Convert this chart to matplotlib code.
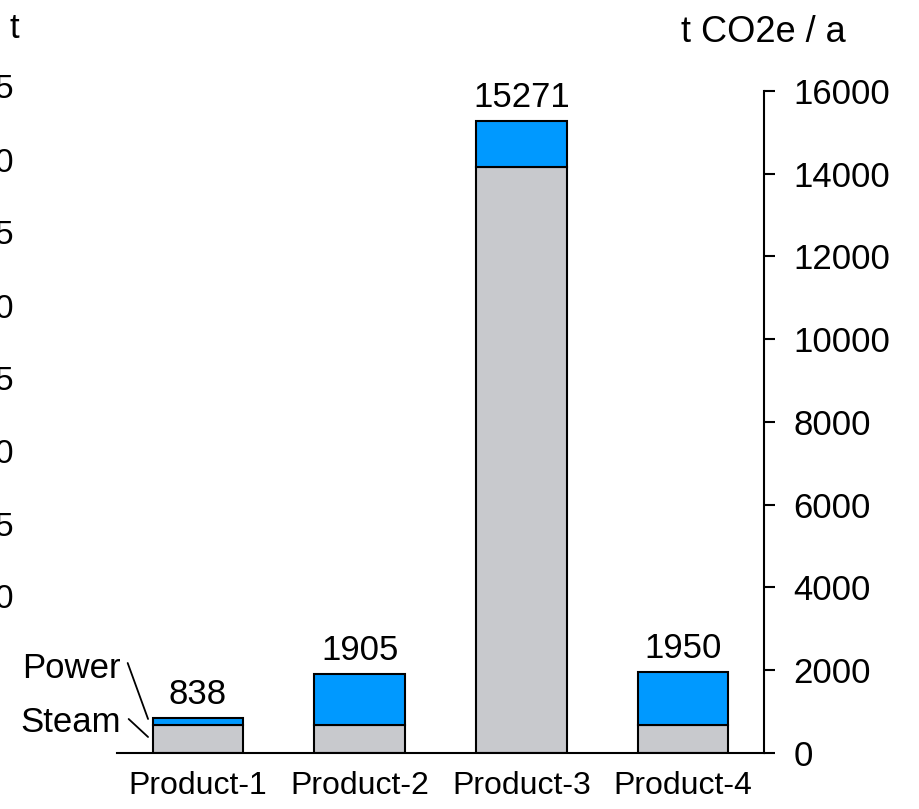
import matplotlib
matplotlib.use("Agg")
import matplotlib.pyplot as plt
import numpy as np

plt.rcParams['font.family'] = ['Liberation Sans', 'DejaVu Sans']

categories = ["Product-1", "Product-2", "Product-3", "Product-4"]
steam = [670, 680, 14160, 670]
power = [168, 1225, 1111, 1280]
totals = [838, 1905, 15271, 1950]
right_ticks = [0, 2000, 4000, 6000, 8000, 10000, 12000, 14000, 16000]
left_clipped_labels = ["5", "0", "5", "0", "5", "0", "5", "0"]

W, H = 920, 809
fig = plt.figure(figsize=(W / 100, H / 100), dpi=100)
ax = fig.add_axes([117 / W, (H - 752.7) / H, (764 - 117) / W, (752.7 - 91) / H])

x = np.arange(len(categories))
bw = 0.56
gray = "#C8C9CD"
blue = "#0099FF"
ax.bar(x, steam, width=bw, color=gray, edgecolor="black", linewidth=1.5, zorder=2)
ax.bar(x, power, width=bw, bottom=steam, color=blue, edgecolor="black", linewidth=1.5, zorder=2)

for xi, t in zip(x, totals):
    ax.annotate(str(t), xy=(xi, t), xytext=(0, 10), textcoords="offset points",
                ha="center", va="baseline", fontsize=25, annotation_clip=False)

ax.set_xlim(-0.5, 3.5)
ax.set_ylim(0, 16000)
ax.set_xticks(x)
ax.set_xticklabels(categories, fontsize=23)
ax.tick_params(axis="x", length=0, pad=13)
ax.yaxis.tick_right()
ax.set_yticks(right_ticks)
ax.set_yticklabels([str(v) for v in right_ticks], fontsize=25)
ax.tick_params(axis="y", direction="out", length=8, width=1.5, pad=13)
for s in ["top", "left"]:
    ax.spines[s].set_visible(False)
ax.spines["right"].set_linewidth(1.5)
ax.spines["bottom"].set_linewidth(1.5)
ax.spines["bottom"].set_zorder(3)

# Power / Steam call-outs
ax.text(-0.477, 1806, "Power", ha="right", va="baseline", fontsize=25, clip_on=False)
ax.text(-0.477, 500, "Steam", ha="right", va="baseline", fontsize=25, clip_on=False)
ax.annotate("", xy=(-0.308, 815), xytext=(-0.434, 2169), annotation_clip=False,
            arrowprops=dict(arrowstyle="-", color="black", lw=1.3, shrinkA=0, shrinkB=0))
ax.annotate("", xy=(-0.308, 380), xytext=(-0.428, 815), annotation_clip=False,
            arrowprops=dict(arrowstyle="-", color="black", lw=1.3, shrinkA=0, shrinkB=0))

# right axis unit label
fig.text(763 / W, 1 - 33 / H, "t CO2e / a", ha="center", va="center", fontsize=26)

# clipped left axis remnants (cut off at the figure edge, as in the reference)
fig.text(14 / W, 1 - 28 / H, "t", ha="center", va="center", fontsize=25)
left_y = [90, 163, 236, 309, 381, 454, 527, 600]
for lbl, yy in zip(left_clipped_labels, left_y):
    fig.text(13 / W, 1 - yy / H, lbl, ha="right", va="center", fontsize=24)

fig.savefig("out.png", dpi=100)
